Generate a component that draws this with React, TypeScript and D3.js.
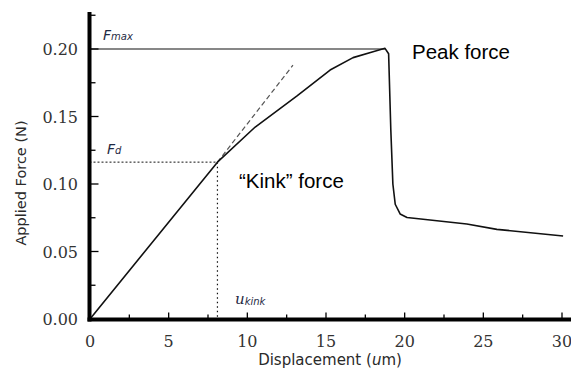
import React from "react";
import * as d3 from "d3";

// Force–displacement curve (displacement in um, force in N)
const displacement = [0, 8.1, 10.5, 13.16, 15.26, 16.72, 17.99, 18.75, 18.98, 19.12, 19.25, 19.4, 19.71, 20.15, 23.95, 25.86, 30.07];
const force = [0, 0.1162, 0.1422, 0.1652, 0.1844, 0.1936, 0.198, 0.2005, 0.1965, 0.14, 0.1, 0.085, 0.0778, 0.0752, 0.0704, 0.0664, 0.0615];

// Tangent (dashed) line extension from the kink
const tangentX = [8.1, 12.9];
const tangentY = [0.1162, 0.188];

const kinkX = 8.1;
const kinkForce = 0.1162;
const peakX = 18.75;
const peakForce = 0.2;

const xTicks = [0, 5, 10, 15, 20, 25, 30];
const xMinorTicks = [2.5, 7.5, 12.5, 17.5, 22.5, 27.5];
const yTicks = [0, 0.05, 0.1, 0.15, 0.2];
const yMinorTicks = [0.025, 0.075, 0.125, 0.175, 0.225];

const W = 571;
const H = 379;

export default function App() {
  const x = d3.scaleLinear().domain([0, 30]).range([90, 562]);
  const y = d3.scaleLinear().domain([0, 0.2]).range([319, 49]);

  const pts: [number, number][] = displacement.map((d, i) => [d, force[i]]);
  const line = d3
    .line<[number, number]>()
    .x((d) => x(d[0]))
    .y((d) => y(d[1]));

  const tangent: [number, number][] = tangentX.map((d, i) => [d, tangentY[i]]);

  const axisX = x(0) - 0.5;
  const axisY = y(0) + 0.5;

  return (
    <div style={{ position: "absolute", left: 0, top: 0 }}>
      <svg width={W} height={H} style={{ display: "block", background: "#fff" }}>
        {/* Fmax line */}
        <line x1={axisX} x2={x(peakX)} y1={y(peakForce)} y2={y(peakForce)} stroke="#111" strokeWidth={1.2} />
        {/* Fd dotted lines */}
        <line x1={axisX} x2={x(kinkX)} y1={y(kinkForce)} y2={y(kinkForce)} stroke="#111" strokeWidth={1} strokeDasharray="2,2" />
        <line x1={x(kinkX)} x2={x(kinkX)} y1={y(kinkForce)} y2={axisY} stroke="#111" strokeWidth={1.2} strokeDasharray="1.5,3" />
        {/* tangent dashed */}
        <path d={line(tangent) || ""} fill="none" stroke="#555" strokeWidth={1.2} strokeDasharray="5,3" />
        {/* curve */}
        <path d={line(pts) || ""} fill="none" stroke="#111" strokeWidth={1.6} strokeLinejoin="round" />

        {/* axes */}
        <line x1={axisX} x2={axisX} y1={12} y2={axisY + 2} stroke="#000" strokeWidth={4} />
        <line x1={axisX - 2} x2={W} y1={axisY} y2={axisY} stroke="#000" strokeWidth={4} />

        {/* x ticks */}
        {xTicks.map((t) => (
          <line key={"xt" + t} x1={x(t)} x2={x(t)} y1={axisY} y2={axisY - 7} stroke="#000" strokeWidth={1.3} />
        ))}
        {xMinorTicks.map((t) => (
          <line key={"xm" + t} x1={x(t)} x2={x(t)} y1={axisY} y2={axisY - 5} stroke="#000" strokeWidth={1.3} />
        ))}
        {yTicks.map((t) => (
          <line key={"yt" + t} x1={axisX} x2={axisX + 9} y1={y(t)} y2={y(t)} stroke="#000" strokeWidth={1.3} />
        ))}
        {yMinorTicks.map((t) => (
          <line key={"ym" + t} x1={axisX} x2={axisX + 6} y1={y(t)} y2={y(t)} stroke="#000" strokeWidth={1.3} />
        ))}

        {/* tick labels */}
        {xTicks.map((t) => (
          <text key={"xl" + t} x={x(t)} y={347} textAnchor="middle" fontFamily="DejaVu Serif" fontSize={16} fill="#333">
            {t}
          </text>
        ))}
        {yTicks.map((t) => (
          <text key={"yl" + t} x={78} y={y(t) + 6} textAnchor="end" fontFamily="DejaVu Serif" fontSize={16} fill="#333">
            {t.toFixed(2)}
          </text>
        ))}

        {/* axis titles */}
        <text x={330} y={365} textAnchor="middle" fontFamily="DejaVu Sans" fontSize={15} fill="#2a2a2a">
          Displacement (<tspan fontStyle="italic">u</tspan>m)
        </text>
        <text transform="translate(26,183) rotate(-90)" textAnchor="middle" fontFamily="DejaVu Sans" fontSize={14.5} fill="#2a2a2a">
          Applied Force (N)
        </text>

        {/* annotations */}
        <text x={103} y={40} fontFamily="DejaVu Sans" fontStyle="italic" fill="#1f2a44">
          <tspan fontSize={14}>F</tspan>
          <tspan fontSize={10}>max</tspan>
        </text>
        <text x={107} y={154} fontFamily="DejaVu Sans" fontStyle="italic" fill="#1f2a44">
          <tspan fontSize={14}>F</tspan>
          <tspan fontSize={10}>d</tspan>
        </text>
        <text x={235} y={304} fontStyle="italic" fill="#1f2a44">
          <tspan fontFamily="DejaVu Serif" fontSize={15}>u</tspan>
          <tspan fontFamily="DejaVu Sans" fontSize={10} dy={1}>kink</tspan>
        </text>
        <text x={412} y={59} fontFamily="Liberation Sans" fontSize={20.5} fill="#000">
          Peak force
        </text>
        <text x={239} y={188} fontFamily="Liberation Sans" fontSize={20.5} fill="#000">
          “Kink” force
        </text>
      </svg>
    </div>
  );
}
